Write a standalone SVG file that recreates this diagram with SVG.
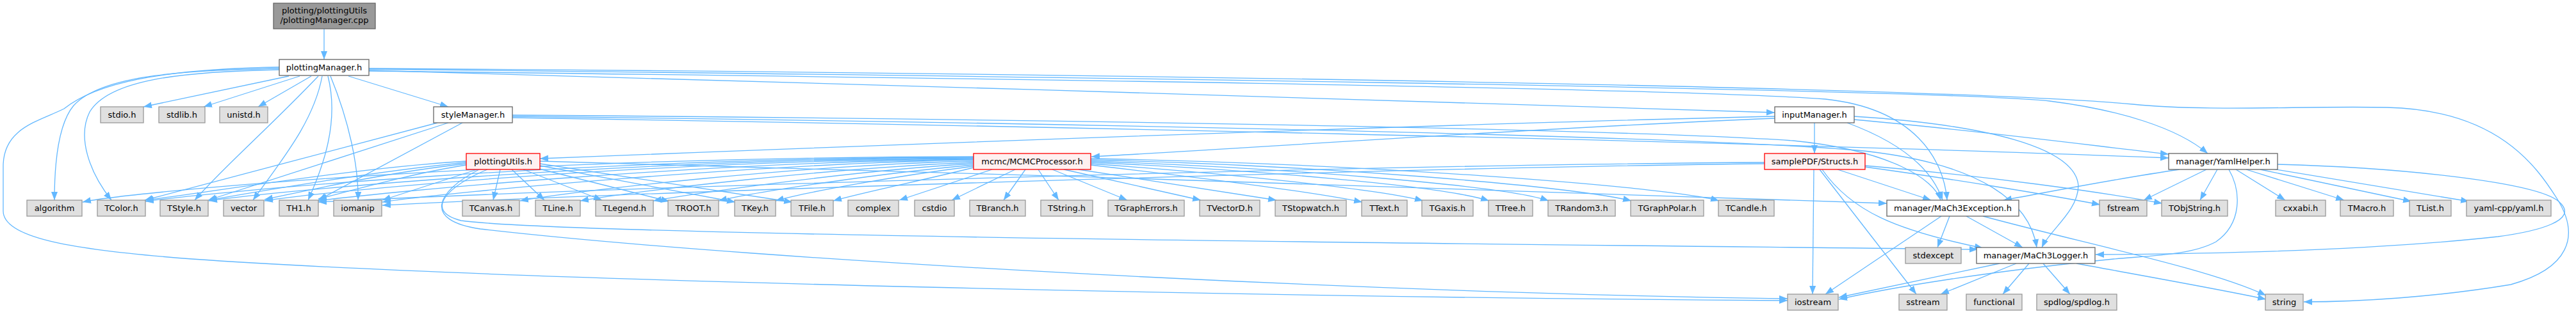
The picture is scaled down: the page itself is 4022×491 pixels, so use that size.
<svg xmlns="http://www.w3.org/2000/svg" width="4022" height="491" viewBox="0 0 4022 491">
<style>
.bx{stroke-width:1.3}
.r{fill:#999999;stroke:#666666}
.w{fill:#ffffff;stroke:#666666}
.g{fill:#e0e0e0;stroke:#999999}
.t{fill:#fff0f0;stroke:#ff0000}
text{font-family:"DejaVu Sans","Liberation Sans",sans-serif;font-size:13px;fill:#000;text-anchor:middle}
.e path{fill:none;stroke:#63b8ff;stroke-width:1.3;marker-end:url(#ah)}
</style>
<defs>
<marker id="ah" viewBox="0 0 13 10" refX="13" refY="5" markerWidth="13" markerHeight="10" markerUnits="userSpaceOnUse" orient="auto">
<path d="M0,0 L13,5 L0,10 z" fill="#63b8ff"/>
</marker>
</defs>
<rect x="0" y="0" width="4022" height="491" fill="#ffffff"/>
<g id="edges" class="e">
<path d="M506,45 L506,93"/>
<path d="M451,119 L224,167"/>
<path d="M468,119 L318,167"/>
<path d="M486,119 L403,167"/>
<path d="M544,119 L700,167"/>
<path d="M436,107 C300,110 160,115 115,165 C90,195 85,260 85,313"/>
<path d="M436,109 C280,112 170,125 140,175 C120,215 140,270 174,313"/>
<path d="M497,119 C420,200 350,260 304,313"/>
<path d="M503,119 C490,190 440,250 395,313"/>
<path d="M512,119 C530,190 505,260 481,313"/>
<path d="M516,119 C545,190 560,260 559,313"/>
<path d="M436,105 C250,108 150,130 100,170 C60,190 5,200 5,260 L5,330 C5,370 100,390 300,405 C800,440 2000,465 2791,470"/>
<path d="M576,110 C1200,125 2200,160 2771,176"/>
<path d="M576,108 C1500,118 3000,138 3200,158 C3310,172 3400,200 3447,240"/>
<path d="M576,107 C1500,113 3000,133 3330,163 C3450,175 3600,165 3727,168 C3900,172 3960,260 3992,310 C4030,370 4010,420 3920,445 C3800,465 3680,472 3597,472"/>
<path d="M576,111 C1500,122 2600,137 2850,155 C2990,170 3035,250 3040,313"/>
<path d="M683,192 L226,313"/>
<path d="M700,192 L325,313"/>
<path d="M722,192 L497,313"/>
<path d="M800,180 C1500,185 2500,200 2800,220 C2950,235 3020,280 3030,313"/>
<path d="M800,182 C1500,190 2600,210 2900,235 C3100,255 3170,320 3180,387"/>
<path d="M800,184 C1500,195 2700,220 3386,247"/>
<path d="M2771,182 C2200,195 1300,230 843,248"/>
<path d="M2771,185 C2400,200 1900,235 1704,245"/>
<path d="M2833,192 L2833,240"/>
<path d="M2884,192 C2960,220 3015,260 3033,313"/>
<path d="M2895,182 C3100,195 3240,230 3245,290 C3245,330 3200,360 3188,387"/>
<path d="M2895,187 C3100,205 3300,232 3386,241"/>
<path d="M781,265 L770,313"/>
<path d="M799,265 L850,313"/>
<path d="M817,265 L940,313"/>
<path d="M838,263 L1045,315"/>
<path d="M843,259 L1148,316"/>
<path d="M843,256 L1237,316"/>
<path d="M745,265 L597,313"/>
<path d="M728,258 C650,270 560,295 497,311"/>
<path d="M728,256 C600,270 480,298 413,312"/>
<path d="M728,254 C580,268 400,300 326,313"/>
<path d="M728,252 C560,262 330,300 227,313"/>
<path d="M761,265 C700,290 660,330 720,345 C900,370 2500,383 3088,390"/>
<path d="M748,265 C680,300 660,345 750,358 C1200,410 2200,460 2791,467"/>
<path d="M843,252 C1500,270 2500,300 2946,318"/>
<path d="M1549,265 L1404,313"/>
<path d="M1585,265 L1486,313"/>
<path d="M1601,265 L1567,313"/>
<path d="M1621,265 L1653,313"/>
<path d="M1643,265 L1760,313"/>
<path d="M1661,265 L1875,313"/>
<path d="M1684,265 L1993,313"/>
<path d="M1703,258 C1850,275 2050,300 2127,316"/>
<path d="M1703,256 C1900,270 2150,295 2222,314"/>
<path d="M1703,254 C1950,265 2250,290 2325,314"/>
<path d="M1703,252 C2000,262 2350,290 2418,314"/>
<path d="M1703,250 C2050,258 2450,290 2547,314"/>
<path d="M1703,248 C2100,255 2600,290 2684,314"/>
<path d="M1520,262 C1450,280 1350,300 1301,314"/>
<path d="M1520,260 C1400,275 1260,300 1211,314"/>
<path d="M1520,258 C1380,270 1180,300 1122,314"/>
<path d="M1520,256 C1350,265 1100,300 1020,314"/>
<path d="M1520,254 C1300,262 1000,298 906,314"/>
<path d="M1520,252 C1250,258 900,298 812,314"/>
<path d="M1520,250 C1200,255 700,300 597,316"/>
<path d="M1520,249 C1100,253 600,300 497,314"/>
<path d="M1520,248 C1000,251 500,300 413,314"/>
<path d="M1520,247 C950,249 420,300 326,314"/>
<path d="M1520,246 C900,247 330,300 227,315"/>
<path d="M1520,245 C800,245 200,300 129,316"/>
<path d="M2755,256 C2200,262 1000,300 597,321"/>
<path d="M2755,254 C2100,258 900,295 497,316"/>
<path d="M2832,265 L2830,460"/>
<path d="M2841,265 L2992,460"/>
<path d="M2845,265 C2890,330 2960,360 3096,388"/>
<path d="M2869,265 L3015,313"/>
<path d="M2912,261 C3050,280 3200,305 3279,320"/>
<path d="M2912,259 C3100,275 3280,300 3376,318"/>
<path d="M3044,338 L3025,387"/>
<path d="M3031,338 L2850,460"/>
<path d="M3070,338 L3158,387"/>
<path d="M3096,338 C3250,380 3450,420 3538,462"/>
<path d="M3122,412 L2871,465"/>
<path d="M3148,412 L3030,460"/>
<path d="M3168,412 L3127,460"/>
<path d="M3190,412 L3232,460"/>
<path d="M3242,412 C3350,432 3480,455 3538,468"/>
<path d="M3462,265 L3435,313"/>
<path d="M3445,265 L3347,313"/>
<path d="M3403,265 C3300,280 3200,300 3128,313"/>
<path d="M3491,265 L3568,313"/>
<path d="M3507,265 L3660,313"/>
<path d="M3529,265 L3765,315"/>
<path d="M3542,263 L3855,315"/>
<path d="M3556,257 C3750,262 3960,285 3995,315 C4030,345 3960,362 3900,370 C3700,392 3450,397 3272,398"/>
<path d="M3480,265 C3500,300 3500,350 3460,378 C3420,400 3350,400 3300,405 C3100,425 2950,450 2871,468"/>
</g>
<g id="n_cpp"><rect class="bx r" x="427" y="5" width="159" height="40"/><text x="506.5" y="20.5">plotting/plottingUtils</text><text x="506.5" y="35.5">/plottingManager.cpp</text></g>
<g id="n_pm"><rect class="bx w" x="436" y="93" width="140" height="25"/><text x="506" y="109.5">plottingManager.h</text></g>
<g id="n_stdio"><rect class="bx g" x="157" y="167" width="67" height="25"/><text x="190.5" y="183.5">stdio.h</text></g>
<g id="n_stdlib"><rect class="bx g" x="248" y="167" width="72" height="25"/><text x="284" y="183.5">stdlib.h</text></g>
<g id="n_unistd"><rect class="bx g" x="343" y="167" width="75" height="25"/><text x="380.5" y="183.5">unistd.h</text></g>
<g id="n_sm"><rect class="bx w" x="677" y="167" width="123" height="25"/><text x="738.5" y="183.5">styleManager.h</text></g>
<g id="n_im"><rect class="bx w" x="2771" y="167" width="124" height="25"/><text x="2833" y="183.5">inputManager.h</text></g>
<g id="n_pu"><rect class="bx t" x="728" y="240" width="115" height="25"/><text x="785.5" y="256.5">plottingUtils.h</text></g>
<g id="n_mp"><rect class="bx t" x="1520" y="240" width="183" height="25"/><text x="1611.5" y="256.5">mcmc/MCMCProcessor.h</text></g>
<g id="n_st"><rect class="bx t" x="2755" y="240" width="157" height="25"/><text x="2833.5" y="256.5">samplePDF/Structs.h</text></g>
<g id="n_yh"><rect class="bx w" x="3386" y="240" width="170" height="25"/><text x="3471" y="256.5">manager/YamlHelper.h</text></g>
<g id="n_algorithm"><rect class="bx g" x="42" y="313" width="86" height="25"/><text x="85" y="329.5">algorithm</text></g>
<g id="n_tcolor"><rect class="bx g" x="152" y="313" width="75" height="25"/><text x="189.5" y="329.5">TColor.h</text></g>
<g id="n_tstyle"><rect class="bx g" x="250" y="313" width="75" height="25"/><text x="287.5" y="329.5">TStyle.h</text></g>
<g id="n_vector"><rect class="bx g" x="349" y="313" width="63" height="25"/><text x="380.5" y="329.5">vector</text></g>
<g id="n_th1"><rect class="bx g" x="436" y="313" width="61" height="25"/><text x="466.5" y="329.5">TH1.h</text></g>
<g id="n_iomanip"><rect class="bx g" x="521" y="313" width="75" height="25"/><text x="558.5" y="329.5">iomanip</text></g>
<g id="n_tcanvas"><rect class="bx g" x="722" y="313" width="89" height="25"/><text x="766.5" y="329.5">TCanvas.h</text></g>
<g id="n_tline"><rect class="bx g" x="836" y="313" width="70" height="25"/><text x="871" y="329.5">TLine.h</text></g>
<g id="n_tlegend"><rect class="bx g" x="930" y="313" width="90" height="25"/><text x="975" y="329.5">TLegend.h</text></g>
<g id="n_troot"><rect class="bx g" x="1043" y="313" width="79" height="25"/><text x="1082.5" y="329.5">TROOT.h</text></g>
<g id="n_tkey"><rect class="bx g" x="1147" y="313" width="64" height="25"/><text x="1179" y="329.5">TKey.h</text></g>
<g id="n_tfile"><rect class="bx g" x="1235" y="313" width="66" height="25"/><text x="1268" y="329.5">TFile.h</text></g>
<g id="n_complex"><rect class="bx g" x="1324" y="313" width="79" height="25"/><text x="1363.5" y="329.5">complex</text></g>
<g id="n_cstdio"><rect class="bx g" x="1428" y="313" width="62" height="25"/><text x="1459" y="329.5">cstdio</text></g>
<g id="n_tbranch"><rect class="bx g" x="1514" y="313" width="87" height="25"/><text x="1557.5" y="329.5">TBranch.h</text></g>
<g id="n_tstring"><rect class="bx g" x="1625" y="313" width="81" height="25"/><text x="1665.5" y="329.5">TString.h</text></g>
<g id="n_tgrapherrors"><rect class="bx g" x="1730" y="313" width="119" height="25"/><text x="1789.5" y="329.5">TGraphErrors.h</text></g>
<g id="n_tvectord"><rect class="bx g" x="1873" y="313" width="94" height="25"/><text x="1920" y="329.5">TVectorD.h</text></g>
<g id="n_tstopwatch"><rect class="bx g" x="1991" y="313" width="111" height="25"/><text x="2046.5" y="329.5">TStopwatch.h</text></g>
<g id="n_ttext"><rect class="bx g" x="2126" y="313" width="71" height="25"/><text x="2161.5" y="329.5">TText.h</text></g>
<g id="n_tgaxis"><rect class="bx g" x="2220" y="313" width="80" height="25"/><text x="2260" y="329.5">TGaxis.h</text></g>
<g id="n_ttree"><rect class="bx g" x="2324" y="313" width="69" height="25"/><text x="2358.5" y="329.5">TTree.h</text></g>
<g id="n_trandom3"><rect class="bx g" x="2417" y="313" width="105" height="25"/><text x="2469.5" y="329.5">TRandom3.h</text></g>
<g id="n_tgraphpolar"><rect class="bx g" x="2546" y="313" width="114" height="25"/><text x="2603" y="329.5">TGraphPolar.h</text></g>
<g id="n_tcandle"><rect class="bx g" x="2683" y="313" width="87" height="25"/><text x="2726.5" y="329.5">TCandle.h</text></g>
<g id="n_me"><rect class="bx w" x="2946" y="313" width="206" height="25"/><text x="3049" y="329.5">manager/MaCh3Exception.h</text></g>
<g id="n_fstream"><rect class="bx g" x="3278" y="313" width="74" height="25"/><text x="3315" y="329.5">fstream</text></g>
<g id="n_tobjstring"><rect class="bx g" x="3375" y="313" width="103" height="25"/><text x="3426.5" y="329.5">TObjString.h</text></g>
<g id="n_cxxabi"><rect class="bx g" x="3553" y="313" width="78" height="25"/><text x="3592" y="329.5">cxxabi.h</text></g>
<g id="n_tmacro"><rect class="bx g" x="3654" y="313" width="83" height="25"/><text x="3695.5" y="329.5">TMacro.h</text></g>
<g id="n_tlist"><rect class="bx g" x="3762" y="313" width="65" height="25"/><text x="3794.5" y="329.5">TList.h</text></g>
<g id="n_yaml"><rect class="bx g" x="3851" y="313" width="132" height="25"/><text x="3917" y="329.5">yaml-cpp/yaml.h</text></g>
<g id="n_stdexcept"><rect class="bx g" x="2975" y="387" width="87" height="25"/><text x="3018.5" y="403.5">stdexcept</text></g>
<g id="n_ml"><rect class="bx w" x="3086" y="387" width="185" height="25"/><text x="3178.5" y="403.5">manager/MaCh3Logger.h</text></g>
<g id="n_iostream"><rect class="bx g" x="2791" y="460" width="79" height="25"/><text x="2830.5" y="476.5">iostream</text></g>
<g id="n_sstream"><rect class="bx g" x="2965" y="460" width="75" height="25"/><text x="3002.5" y="476.5">sstream</text></g>
<g id="n_functional"><rect class="bx g" x="3070" y="460" width="87" height="25"/><text x="3113.5" y="476.5">functional</text></g>
<g id="n_spdlog"><rect class="bx g" x="3180" y="460" width="125" height="25"/><text x="3242.5" y="476.5">spdlog/spdlog.h</text></g>
<g id="n_string"><rect class="bx g" x="3537" y="460" width="59" height="25"/><text x="3566.5" y="476.5">string</text></g>
</svg>
